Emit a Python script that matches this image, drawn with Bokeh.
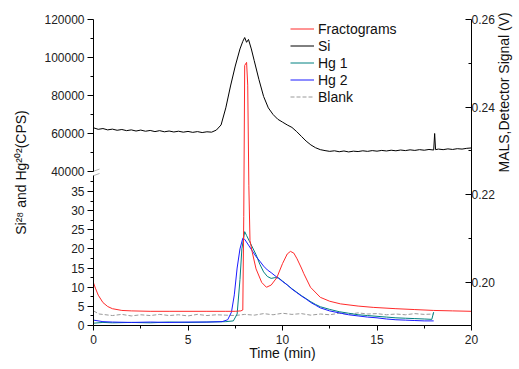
import math
from bokeh.plotting import figure
from bokeh.models import (Range1d, LinearAxis, FixedTicker, CustomJSTickFormatter,
                          PrintfTickFormatter, Legend, LegendItem, PolyAnnotation)
from bokeh.embed import file_html
from bokeh.resources import INLINE

# ---------------- data ----------------
time_si = [0.0, 0.25, 0.5, 0.75, 1.0, 1.25, 1.5, 1.75, 2.0, 2.25, 2.5, 2.75, 3.0, 3.25, 3.5, 3.75,
           4.0, 4.25, 4.5, 4.75, 5.0, 5.25, 5.5, 5.75, 6.0, 6.25, 6.5, 6.75, 7.0, 7.25, 7.5, 7.75,
           7.9, 8.0, 8.1, 8.2, 8.35, 8.5, 8.75, 9.0, 9.25, 9.5, 9.75, 10.0, 10.25, 10.5, 10.75,
           11.0, 11.25, 11.5, 11.75, 12.0, 12.25, 12.5, 12.75, 13.0, 13.25, 13.5, 13.75, 14.0,
           14.25, 14.5, 14.75, 15.0, 15.25, 15.5, 15.75, 16.0, 16.25, 16.5, 16.75, 17.0, 17.25,
           17.5, 17.75, 18.0, 18.05, 18.1, 18.25, 18.5, 18.75, 19.0, 19.25, 19.5, 19.75, 20.0]
si_cps = [63000, 62200, 62600, 61900, 62300, 61700, 62100, 61500, 61900, 61300, 61800, 61200,
          61600, 61000, 61500, 60900, 61300, 60800, 61200, 60700, 61100, 60600, 61000, 60500,
          60900, 60700, 61800, 64500, 73500, 85000, 95500, 104500, 108500, 110500, 108000,
          109500, 104500, 98500, 88500, 79500, 73500, 70000, 67500, 66000, 64500, 63200, 61000,
          58500, 56000, 54000, 52500, 51500, 51000, 50600, 50900, 50400, 50800, 50300, 50700,
          50500, 50900, 50600, 51000, 50700, 51100, 50800, 51200, 50900, 51300, 51000, 51400,
          51100, 51500, 51200, 51600, 51300, 60000, 51500, 51800, 51500, 51900, 51600, 52000,
          51800, 52200, 52400]

time_mals = [0.0, 0.1, 0.25, 0.5, 0.75, 1.0, 1.5, 2.0, 3.0, 4.0, 5.0, 6.0, 7.0, 7.5, 7.8, 7.9,
             7.95, 8.0, 8.1, 8.16, 8.22, 8.28, 8.4, 8.6, 8.9, 9.15, 9.4, 9.7, 10.0, 10.25, 10.42,
             10.6, 10.77, 11.0, 11.13, 11.48, 12.0, 12.5, 13.07, 14.0, 14.8, 16.0, 17.0, 18.0,
             19.0, 20.0]
mals_v = [0.1998, 0.1986, 0.1970, 0.1953, 0.1944, 0.1939, 0.1935, 0.1934, 0.1933, 0.1933,
          0.1933, 0.1933, 0.1933, 0.1933, 0.1934, 0.1936, 0.2150, 0.2495, 0.2502, 0.2450,
          0.2220, 0.2095, 0.2068, 0.2030, 0.1999, 0.1988, 0.1993, 0.2010, 0.2042, 0.2064,
          0.2070, 0.2066, 0.2053, 0.2032, 0.2019, 0.1988, 0.1965, 0.1956, 0.1950, 0.1945,
          0.1942, 0.1939, 0.1937, 0.1935, 0.1934, 0.1933]

time_hg1 = [0.0, 0.5, 1.0, 2.0, 3.0, 4.0, 5.0, 6.0, 7.0, 7.4, 7.6, 7.75, 7.85, 8.0, 8.1, 8.25,
            8.4, 8.6, 8.8, 9.0, 9.2, 9.4, 9.6, 9.8, 10.0, 10.25, 10.5, 10.75, 11.0, 11.25, 11.5,
            11.75, 12.0, 12.5, 13.0, 13.5, 14.0, 14.5, 15.0, 15.5, 16.0, 16.5, 17.0, 17.5, 17.9,
            18.0]
hg1 = [0.6, 0.8, 0.7, 0.8, 0.7, 0.9, 0.8, 0.9, 1.0, 1.2, 3.0, 12.0, 20.0, 24.5, 23.5, 22.0,
       20.5, 18.5, 16.0, 14.0, 12.8, 12.3, 12.5, 12.4, 11.6, 10.6, 9.6, 8.7, 7.8, 7.0, 6.2, 5.5,
       4.9, 4.2, 3.6, 3.2, 2.8, 2.6, 2.4, 2.2, 2.0, 1.9, 1.8, 1.7, 1.6, 3.5]

time_hg2 = [0.0, 0.5, 1.0, 2.0, 3.0, 4.0, 5.0, 6.0, 6.8, 7.1, 7.3, 7.45, 7.6, 7.75, 7.9, 8.0,
            8.2, 8.4, 8.6, 8.8, 9.0, 9.2, 9.4, 9.6, 9.8, 10.0, 10.25, 10.5, 10.75, 11.0, 11.25,
            11.5, 11.75, 12.0, 12.5, 13.0, 13.5, 14.0, 14.5, 15.0, 15.5, 16.0, 16.5, 17.0, 17.5,
            18.0]
hg2 = [1.4, 1.0, 0.9, 0.8, 0.9, 0.8, 0.9, 0.9, 1.0, 1.5, 3.5, 8.0, 15.0, 20.0, 22.8, 22.5,
       21.0, 19.5, 18.0, 16.8, 15.5, 14.5, 13.8, 13.0, 12.3, 11.5, 10.6, 9.5, 8.6, 7.7, 6.9,
       6.0, 5.3, 4.6, 3.8, 3.3, 2.8, 2.5, 2.2, 2.0, 1.7, 1.5, 1.4, 1.3, 1.2, 1.2]

time_blank = [0.0, 0.3, 1.0, 1.5, 2.0, 2.5, 3.0, 3.5, 4.0, 4.5, 5.0, 5.5, 6.0, 6.5, 7.0, 7.5,
              8.0, 8.5, 9.0, 9.5, 10.0, 10.5, 11.0, 11.5, 12.0, 12.5, 13.0, 13.5, 14.0, 14.5,
              15.0, 15.5, 16.0, 16.5, 17.0, 17.5, 18.0]
blank = [3.8, 3.0, 2.6, 2.9, 2.5, 2.8, 2.6, 2.9, 2.6, 2.8, 2.5, 2.9, 2.6, 2.8, 2.7, 2.6, 2.9,
         2.7, 3.1, 2.8, 3.2, 2.9, 3.1, 2.7, 3.0, 2.8, 3.2, 2.9, 3.3, 3.0, 3.1, 2.8, 3.0, 2.8,
         3.1, 2.9, 3.0]

x_ticks = [0, 5, 10, 15, 20]
x_minor = [2.5, 7.5, 12.5, 17.5]
lower_ticks = [0, 5, 10, 15, 20, 25, 30, 35]
lower_minor = [2.5, 7.5, 12.5, 17.5, 22.5, 27.5, 32.5, 37.5]
upper_ticks = [40000, 60000, 80000, 100000, 120000]
upper_minor = [50000, 70000, 90000, 110000]
mals_ticks = [0.20, 0.22, 0.24, 0.26]
mals_minor = [0.21, 0.23, 0.25]

legend_labels = ["Fractograms", "Si", "Hg 1", "Hg 2", "Blank"]

# ---------------- ranges (layout) ----------------
MALS_RANGE = (0.19006, 0.26)
LOWER_RANGE = (0.0, 79.9)
UPPER_RANGE = (-41053.0, 120000.0)
GAP = (39.15, 40.3)   # break in the left axis, in "lower" units


def up_to_lo(v):
    return LOWER_RANGE[0] + (v - UPPER_RANGE[0]) / (UPPER_RANGE[1] - UPPER_RANGE[0]) * (LOWER_RANGE[1] - LOWER_RANGE[0])


def lo_to_mals(u):
    return MALS_RANGE[0] + (u - LOWER_RANGE[0]) / (LOWER_RANGE[1] - LOWER_RANGE[0]) * (MALS_RANGE[1] - MALS_RANGE[0])


FONT = "Liberation Sans"

p = figure(frame_width=378, frame_height=306, x_range=Range1d(0, 20),
           y_range=Range1d(*MALS_RANGE), output_backend="svg", toolbar_location=None,
           y_axis_location=None, min_border_left=93, min_border_top=19,
           min_border_right=45, min_border_bottom=0)
p.outline_line_color = None
p.extra_y_ranges = {"lower": Range1d(*LOWER_RANGE), "upper": Range1d(*UPPER_RANGE)}
p.xgrid.visible = False
p.ygrid.visible = False

r_blank = p.line(time_blank, blank, y_range_name="lower", line_color="#9a9a9a", line_width=1,
                 line_dash="4 2")
r_hg1 = p.line(time_hg1, hg1, y_range_name="lower", line_color="#008080", line_width=1)
r_hg2 = p.line(time_hg2, hg2, y_range_name="lower", line_color="#1a1aff", line_width=1)
r_si = p.line(time_si, si_cps, y_range_name="upper", line_color="black", line_width=1)
r_frac = p.line(time_mals, mals_v, line_color="#ff2a2a", line_width=1)

# x axis
xa = p.xaxis[0]
xa.ticker = FixedTicker(ticks=x_ticks, minor_ticks=x_minor)
xa.axis_label = "Time (min)"

# left broken axis: two bare axis lines (lower and upper part) + one labelled axis
for b in [(LOWER_RANGE[0], GAP[0]), (GAP[1], LOWER_RANGE[1])]:
    seg = LinearAxis(y_range_name="lower", bounds=b,
                     ticker=FixedTicker(ticks=[], minor_ticks=[]),
                     major_tick_in=0, major_tick_out=0, minor_tick_in=0, minor_tick_out=0,
                     major_label_standoff=0, axis_label=None, axis_label_standoff=0,
                     axis_line_color="black")
    p.add_layout(seg, "left")

fmt = CustomJSTickFormatter(args=dict(lo0=LOWER_RANGE[0], lo1=LOWER_RANGE[1],
                                      up0=UPPER_RANGE[0], up1=UPPER_RANGE[1], cut=GAP[0]),
                            code="""
if (tick < cut) { return tick.toFixed(0) }
const v = up0 + (tick - lo0) / (lo1 - lo0) * (up1 - up0)
return (Math.round(v / 1000) * 1000).toFixed(0)
""")
la = LinearAxis(y_range_name="lower",
                ticker=FixedTicker(ticks=lower_ticks + [up_to_lo(v) for v in upper_ticks],
                                   minor_ticks=lower_minor + [up_to_lo(v) for v in upper_minor]),
                formatter=fmt, axis_label="Si²⁸ and Hg²⁰²(CPS)")
p.add_layout(la, "left")

ra = LinearAxis(ticker=FixedTicker(ticks=mals_ticks, minor_ticks=mals_minor),
                formatter=PrintfTickFormatter(format="%.2f"),
                axis_label="MALS,Detector Signal (V)")
p.add_layout(ra, "right")

for ax in (xa, la, ra):
    ax.axis_line_color = "black"
    ax.major_tick_line_color = "black"
    ax.minor_tick_line_color = "black"
    ax.major_label_text_font = FONT
    ax.major_label_text_font_size = "12px"
    ax.major_label_text_color = "#222222"
    ax.axis_label_text_font = FONT
    ax.axis_label_text_font_size = "14px"
    ax.axis_label_text_font_style = "normal"
    ax.axis_label_text_color = "#111111"
la.axis_line_color = None

xa.major_tick_in, xa.major_tick_out = 0, 5
xa.minor_tick_in, xa.minor_tick_out = 0, 3
xa.major_label_standoff = 4
xa.axis_label_standoff = -2

la.major_tick_in, la.major_tick_out = 0, 6
la.minor_tick_in, la.minor_tick_out = 0, 3
la.major_label_standoff = 3
la.axis_label_standoff = 12

ra.major_tick_in, ra.major_tick_out = 6, 0
ra.minor_tick_in, ra.minor_tick_out = 3, 0
ra.major_label_standoff = 0
ra.axis_label_standoff = 6
ra.axis_label_orientation = math.pi / 2

# break marks on the left axis
for yb in GAP:
    p.add_layout(PolyAnnotation(xs=[-0.28, 0.32], ys=[lo_to_mals(yb - 0.55), lo_to_mals(yb + 0.55)],
                                line_color="black", line_width=1, fill_alpha=0))

legend = Legend(items=[LegendItem(label=l, renderers=[r]) for l, r in
                       zip(legend_labels, [r_frac, r_si, r_hg1, r_hg2, r_blank])],
                location=(197, 220), border_line_color=None, background_fill_alpha=0,
                padding=0, margin=0, spacing=0, glyph_width=24, glyph_height=17,
                label_height=17, label_standoff=4, label_text_font=FONT,
                label_text_font_size="14px", label_text_color="#111111")
p.add_layout(legend)

open("out.html", "w").write(file_html(p, INLINE))
